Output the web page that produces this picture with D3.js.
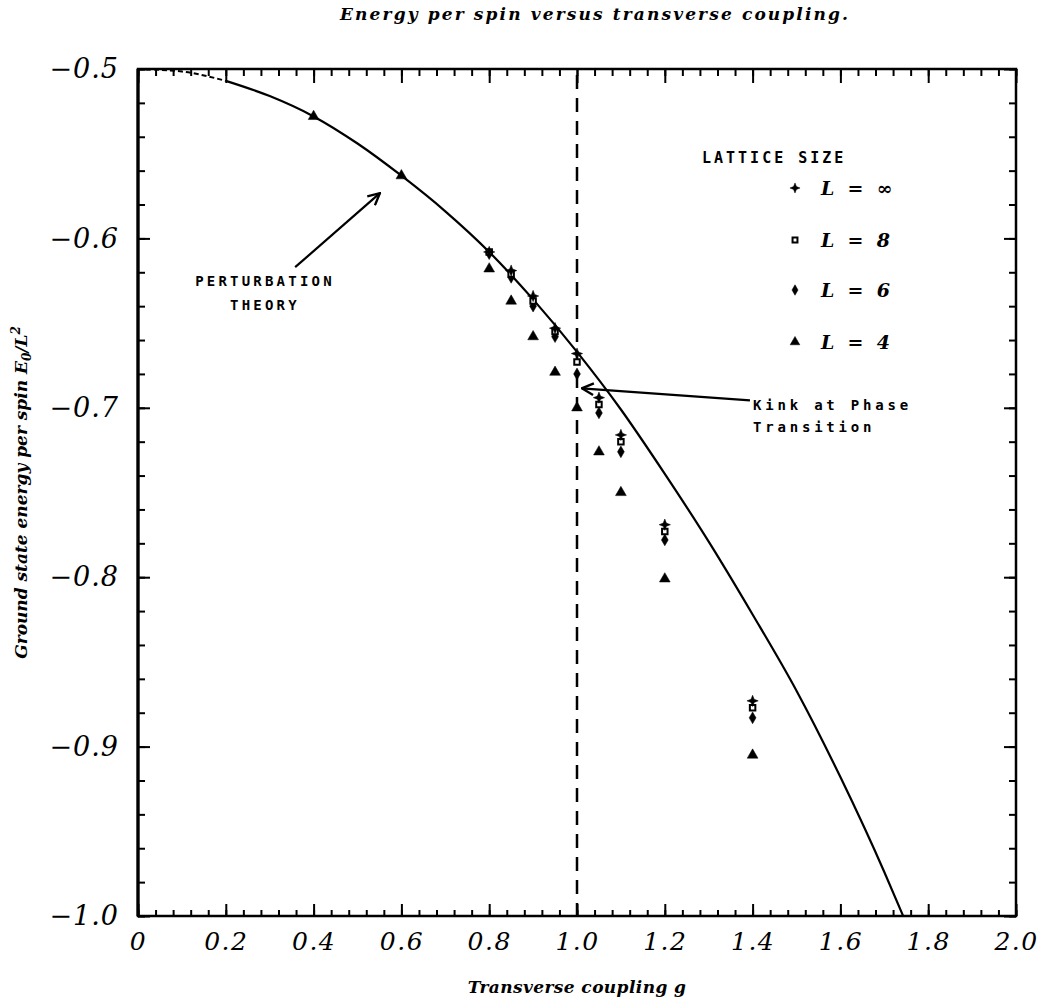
<!DOCTYPE html>
<html>
<head>
<meta charset="utf-8">
<script src="https://cdn.jsdelivr.net/npm/d3@7"></script>
<style>
  body { margin: 0; background: #fff; }
  .tick text { font-family: "DejaVu Serif", serif; font-style: italic; }
  .mono { font-family: "DejaVu Sans Mono", monospace; font-weight: bold; }
</style>
</head>
<body>
<svg id="chart" width="1043" height="1005"></svg>
<script>
"use strict";

// Couplings where L = inf, 8 and 6 were computed
var couplings = [0.8, 0.85, 0.9, 0.95, 1.0, 1.05, 1.1, 1.2, 1.4];
var energyInf = [-0.608, -0.619, -0.634, -0.653, -0.668, -0.694, -0.716, -0.769, -0.873];
var energyL8  = [-0.608, -0.621, -0.637, -0.655, -0.673, -0.698, -0.720, -0.773, -0.877];
var energyL6  = [-0.609, -0.623, -0.640, -0.658, -0.680, -0.703, -0.726, -0.778, -0.883];

// L = 4 has two more points at small coupling
var couplingsL4 = [0.4, 0.6, 0.8, 0.85, 0.9, 0.95, 1.0, 1.05, 1.1, 1.2, 1.4];
var energyL4    = [-0.528, -0.563, -0.618, -0.637, -0.658, -0.679, -0.700, -0.726, -0.750, -0.801, -0.905];

// Perturbation theory curve
var theoryG = [0, 0.1, 0.2, 0.3, 0.4, 0.5, 0.6, 0.7, 0.8, 0.9, 1.0, 1.1, 1.2, 1.3, 1.4, 1.5, 1.6, 1.7, 1.743];
var theoryE = [-0.500, -0.5015, -0.507, -0.516, -0.528, -0.544, -0.563, -0.584, -0.608, -0.636, -0.667,
               -0.701, -0.739, -0.779, -0.822, -0.867, -0.918, -0.974, -1.0];

var xTickLabels = [0, 0.2, 0.4, 0.6, 0.8, 1.0, 1.2, 1.4, 1.6, 1.8, 2.0];
var yTickLabels = [-0.5, -0.6, -0.7, -0.8, -0.9, -1.0];
var legendLabels = ["L = \u221e", "L = 8", "L = 6", "L = 4"];

var svg = d3.select("#chart");
var plotLeft = 138, plotRight = 1016, plotTop = 69, plotBottom = 916;

var x = d3.scaleLinear().domain([0, 2]).range([plotLeft, plotRight]);
var y = d3.scaleLinear().domain([-1, -0.5]).range([plotBottom, plotTop]);

//minor and major tick positions
var xMinor = d3.range(0, 2.001, 0.04);
var yMinor = d3.range(-1, -0.499, 0.02);

function drawTicks(axis, transform, values, size) {
  var g = svg.append("g")
    .attr("transform", transform)
    .call(axis.tickValues(values).tickSize(size).tickFormat(""));
  g.select(".domain").remove();
  g.selectAll("line").attr("stroke", "#000").attr("stroke-width", 2);
  return g;
}

// ticks pointing into the frame on all four sides
drawTicks(d3.axisTop(x), "translate(0," + plotBottom + ")", xMinor, 6);
drawTicks(d3.axisTop(x), "translate(0," + plotBottom + ")", xTickLabels, 12);
drawTicks(d3.axisBottom(x), "translate(0," + plotTop + ")", xMinor, 7);
drawTicks(d3.axisBottom(x), "translate(0," + plotTop + ")", xTickLabels, 14);
drawTicks(d3.axisRight(y), "translate(" + plotLeft + ",0)", yMinor, 7);
drawTicks(d3.axisRight(y), "translate(" + plotLeft + ",0)", yTickLabels, 12);
drawTicks(d3.axisLeft(y), "translate(" + plotRight + ",0)", yMinor, 7);
drawTicks(d3.axisLeft(y), "translate(" + plotRight + ",0)", yTickLabels, 12);

// tick labels
var xl = svg.append("g")
  .attr("transform", "translate(0," + plotBottom + ")")
  .call(d3.axisBottom(x).tickValues(xTickLabels).tickSize(0).tickPadding(16)
    .tickFormat(function (d) { return d === 0 ? "0" : d.toFixed(1); }));
xl.select(".domain").remove();
xl.selectAll("text").attr("font-size", 25).attr("letter-spacing", 1.5).attr("fill", "#000");

var yl = svg.append("g")
  .attr("transform", "translate(" + plotLeft + ",0)")
  .call(d3.axisLeft(y).tickValues(yTickLabels).tickSize(0).tickPadding(19)
    .tickFormat(function (d) { return "\u2212" + Math.abs(d).toFixed(1); }));
yl.select(".domain").remove();
yl.selectAll("text").attr("font-size", 27).attr("letter-spacing", 1).attr("fill", "#000");

// frame
svg.append("rect")
  .attr("x", plotLeft).attr("y", plotTop)
  .attr("width", plotRight - plotLeft).attr("height", plotBottom - plotTop)
  .attr("fill", "none").attr("stroke", "#000").attr("stroke-width", 2.5);
svg.append("line")
  .attr("x1", plotLeft).attr("x2", plotLeft).attr("y1", plotTop).attr("y2", plotBottom)
  .attr("stroke", "#000").attr("stroke-width", 3.2);

// phase transition at g = 1
svg.append("line")
  .attr("x1", x(1)).attr("x2", x(1))
  .attr("y1", y(-0.5) + 6).attr("y2", y(-1))
  .attr("stroke", "#000").attr("stroke-width", 2.5)
  .attr("stroke-dasharray", "14,9");

// perturbation theory curve, dashed where it hugs the top axis
var theory = theoryG.map(function (g, i) { return { g: g, e: theoryE[i] }; });
var line = d3.line().x(function (d) { return x(d.g); }).y(function (d) { return y(d.e); })
  .curve(d3.curveMonotoneX);

svg.append("path")
  .datum(theory.filter(function (d) { return d.g <= 0.2; }))
  .attr("d", line)
  .attr("fill", "none").attr("stroke", "#000").attr("stroke-width", 2)
  .attr("stroke-dasharray", "5,3");
svg.append("path")
  .datum(theory.filter(function (d) { return d.g >= 0.2; }))
  .attr("d", line)
  .attr("fill", "none").attr("stroke", "#000").attr("stroke-width", 2.2);

// four point star for L = infinity
var star4 = {
  draw: function (context, size) {
    var r = Math.sqrt(size) * 0.8, k = r * 0.28;
    context.moveTo(0, -r);
    context.lineTo(k, -k);
    context.lineTo(r, 0);
    context.lineTo(k, k);
    context.lineTo(0, r);
    context.lineTo(-k, k);
    context.lineTo(-r, 0);
    context.lineTo(-k, -k);
    context.closePath();
  }
};

var series = [
  { label: legendLabels[3], gs: couplingsL4, es: energyL4, type: d3.symbolTriangle, size: 50, fill: "#000" },
  { label: legendLabels[2], gs: couplings, es: energyL6, type: d3.symbolDiamond, size: 40, fill: "#000" },
  { label: legendLabels[1], gs: couplings, es: energyL8, type: d3.symbolSquare, size: 30, fill: "#fff" },
  { label: legendLabels[0], gs: couplings, es: energyInf, type: star4, size: 50, fill: "#000" }
];

series.forEach(function (s) {
  var sym = d3.symbol().type(s.type).size(s.size);
  svg.append("g").selectAll("path")
    .data(s.gs.map(function (g, i) { return { g: g, e: s.es[i] }; }))
    .enter()
    .append("path")
      .attr("transform", function (d) { return "translate(" + x(d.g) + "," + y(d.e) + ")"; })
      .attr("d", sym)
      .attr("fill", s.fill)
      .attr("stroke", "#000")
      .attr("stroke-width", s.fill === "#fff" ? 2 : 0.5);
});

// legend
svg.append("text").attr("class", "mono")
  .attr("x", 702).attr("y", 163)
  .attr("font-size", 15).attr("letter-spacing", 3)
  .text("LATTICE SIZE");

var legendOrder = series.slice().reverse();
var leg = svg.append("g").selectAll("g")
  .data(legendOrder)
  .enter()
  .append("g")
    .attr("transform", function (d, i) { return "translate(795," + [188, 240, 290, 342][i] + ")"; });
leg.append("path")
  .attr("d", function (d) { return d3.symbol().type(d.type).size(d.size * 0.8)(); })
  .attr("fill", function (d) { return d.fill; })
  .attr("stroke", "#000")
  .attr("stroke-width", function (d) { return d.fill === "#fff" ? 2 : 0.5; });
leg.append("text")
  .attr("x", 26).attr("y", 7)
  .attr("font-family", "DejaVu Serif, serif").attr("font-style", "italic").attr("font-weight", "bold")
  .attr("font-size", 19).attr("xml:space", "preserve")
  .text(function (d) { return d.label.replace(/ /g, "  "); });

// annotations
var defs = svg.append("defs");
defs.append("marker")
  .attr("id", "arrow").attr("viewBox", "0 0 12 12")
  .attr("refX", 11).attr("refY", 6)
  .attr("markerWidth", 14).attr("markerHeight", 14)
  .attr("markerUnits", "userSpaceOnUse")
  .attr("orient", "auto")
  .append("path")
    .attr("d", "M1,1 L11,6 L1,11")
    .attr("fill", "none").attr("stroke", "#000").attr("stroke-width", 2);

svg.append("line")
  .attr("x1", x(0.358)).attr("y1", y(-0.617))
  .attr("x2", x(0.551)).attr("y2", y(-0.5733))
  .attr("stroke", "#000").attr("stroke-width", 2.2)
  .attr("marker-end", "url(#arrow)");

svg.append("line")
  .attr("x1", x(1.394)).attr("y1", y(-0.6956))
  .attr("x2", x(1.011)).attr("y2", y(-0.6885))
  .attr("stroke", "#000").attr("stroke-width", 2.2)
  .attr("marker-end", "url(#arrow)");

svg.append("text").attr("class", "mono")
  .attr("x", 265).attr("y", 286).attr("text-anchor", "middle")
  .attr("font-size", 14).attr("letter-spacing", 3.2)
  .text("PERTURBATION");
svg.append("text").attr("class", "mono")
  .attr("x", 265).attr("y", 310).attr("text-anchor", "middle")
  .attr("font-size", 14).attr("letter-spacing", 3.2)
  .text("THEORY");

svg.append("text").attr("class", "mono")
  .attr("x", 753).attr("y", 410)
  .attr("font-size", 14).attr("letter-spacing", 3.8)
  .text("Kink at Phase");
svg.append("text").attr("class", "mono")
  .attr("x", 753).attr("y", 432)
  .attr("font-size", 14).attr("letter-spacing", 3.8)
  .text("Transition");

// titles
svg.append("text")
  .attr("x", 340).attr("y", 20)
  .attr("font-family", "DejaVu Serif, serif").attr("font-style", "italic").attr("font-weight", "bold")
  .attr("font-size", 17)
  .attr("textLength", 508).attr("lengthAdjust", "spacing")
  .text("Energy per spin versus transverse coupling.");

svg.append("text")
  .attr("x", x(1)).attr("y", 993).attr("text-anchor", "middle")
  .attr("font-family", "DejaVu Serif, serif").attr("font-style", "italic").attr("font-weight", "bold")
  .attr("font-size", 17).attr("letter-spacing", 0.4)
  .text("Transverse coupling g");

var ylab = svg.append("text")
  .attr("transform", "translate(27," + ((plotTop + plotBottom) / 2) + ") rotate(-90)")
  .attr("text-anchor", "middle")
  .attr("font-family", "DejaVu Serif, serif").attr("font-style", "italic").attr("font-weight", "bold")
  .attr("font-size", 17);
ylab.append("tspan").text("Ground state energy per spin E");
ylab.append("tspan").attr("font-size", 12).attr("dy", 4).text("0");
ylab.append("tspan").attr("dy", -4).text("/L");
ylab.append("tspan").attr("font-size", 12).attr("dy", -7).text("2");
</script>
</body>
</html>
